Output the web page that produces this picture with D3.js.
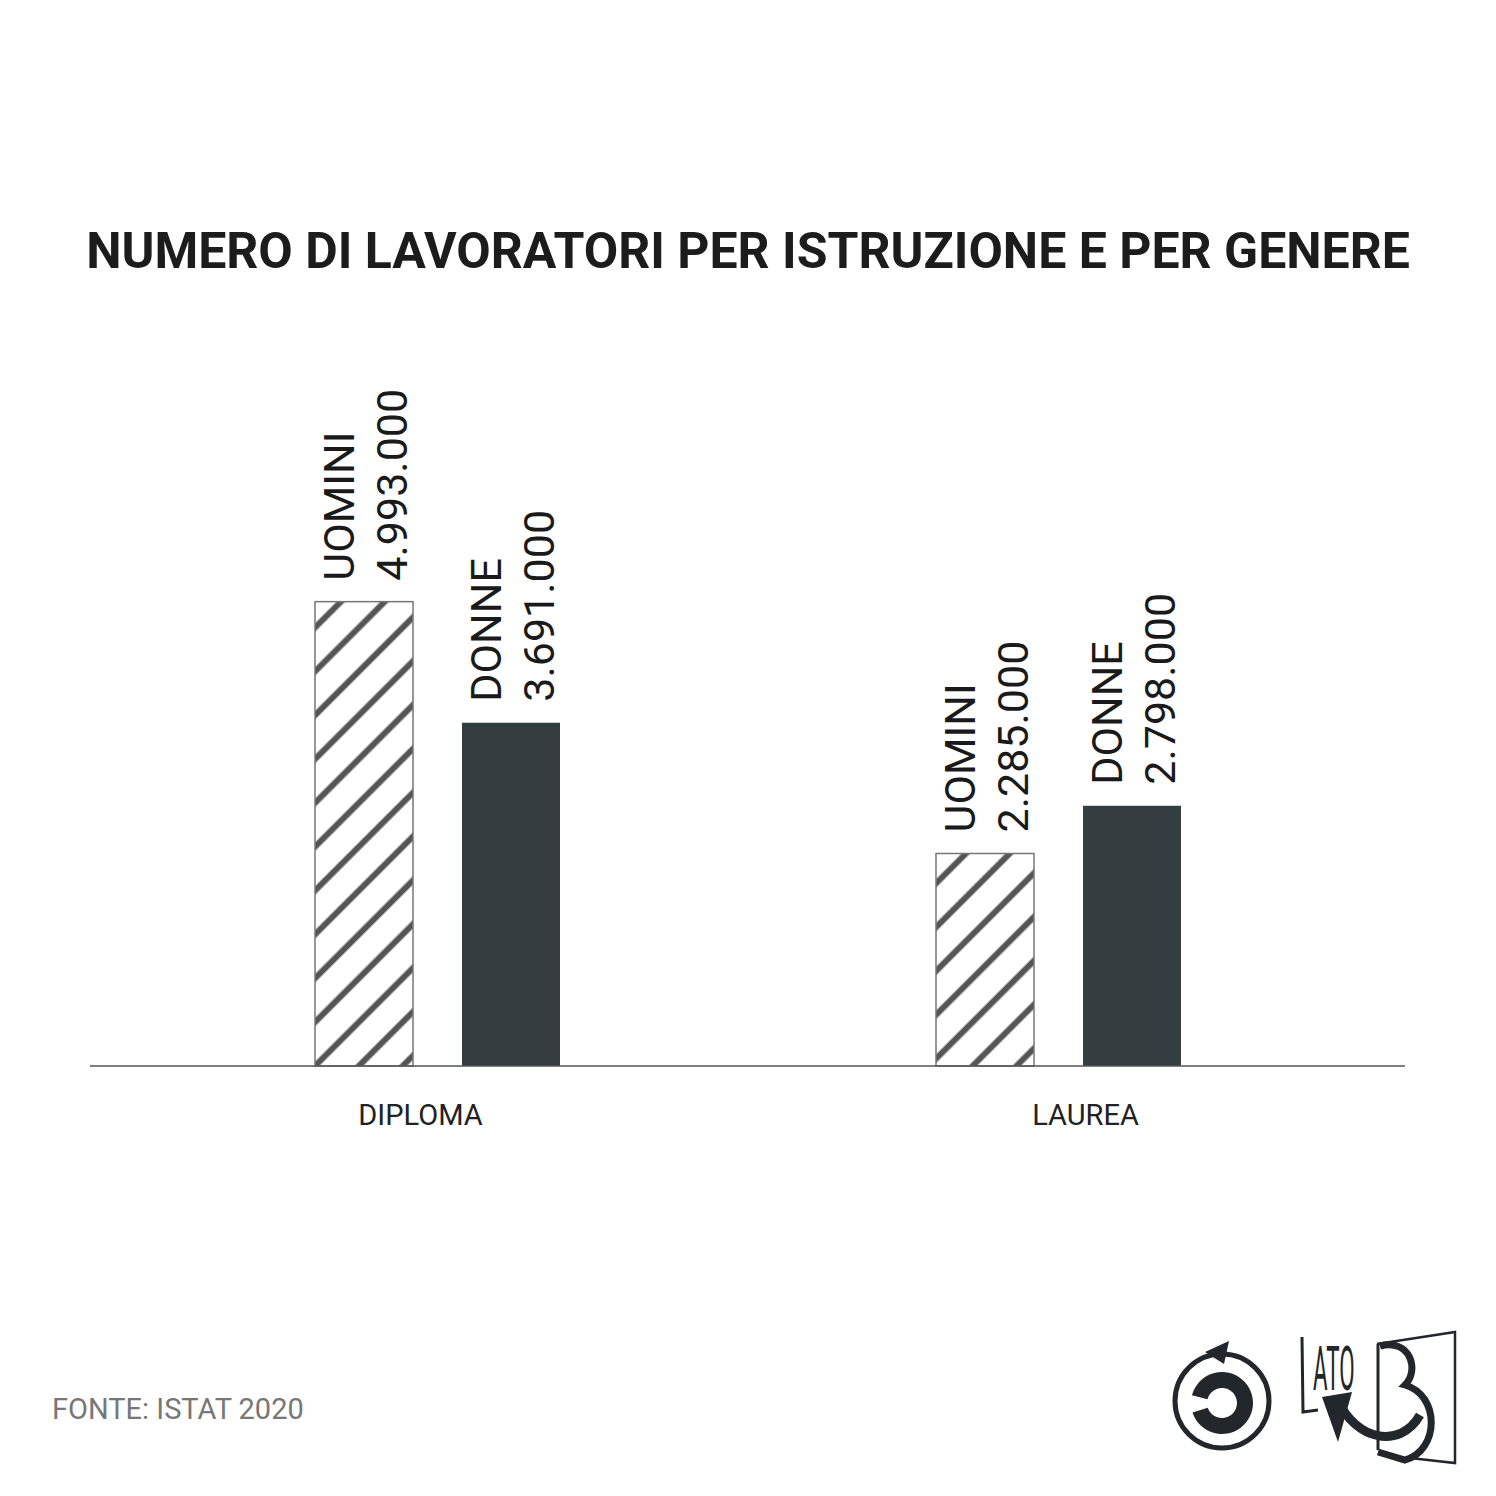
<!DOCTYPE html>
<html>
<head>
<meta charset="utf-8">
<script src="https://cdn.jsdelivr.net/npm/d3@7"></script>
<style>
  body { margin: 0; background: #fff; }
  text { font-family: Roboto, "Noto Sans", sans-serif; }
</style>
</head>
<body>
<svg width="1496" height="1496"></svg>
<script>
// data
var categories = ['DIPLOMA', 'LAUREA'];
var genders = ['UOMINI', 'DONNE'];
var uomini = [4993000, 2285000];
var donne = [3691000, 2798000];
var title = 'NUMERO DI LAVORATORI PER ISTRUZIONE E PER GENERE';
var source = 'FONTE: ISTAT 2020';

var W = 1496, H = 1496;
var baseY = 1066;
var dark = '#343d40';

var svg = d3.select('svg');
var it = d3.formatLocale({ decimal: ',', thousands: '.', grouping: [3], currency: ['€', ''] });
var fmt = it.format(',d');

var rows = [];
categories.forEach(function (c, i) {
  rows.push({ cat: c, gen: 'UOMINI', v: uomini[i] });
  rows.push({ cat: c, gen: 'DONNE', v: donne[i] });
});

// scales
var y = d3.scaleLinear().domain([0, 5000000]).range([baseY, 601]);
var xBars = d3.scaleBand().domain(categories).range([127, 1369]);
var xLabels = d3.scaleBand().domain(categories).range([88, 1418]);
var xSub = d3.scaleBand().domain(genders).range([0, 245]).paddingInner(1 / 3);

// hatch pattern
var defs = svg.append('defs');
defs.append('pattern')
    .attr('id', 'hatch')
    .attr('patternUnits', 'userSpaceOnUse')
    .attr('width', 31).attr('height', 31)
    .attr('patternTransform', 'rotate(45)')
  .append('line')
    .attr('x1', 15.5).attr('y1', 0).attr('x2', 15.5).attr('y2', 31)
    .attr('stroke', '#555').attr('stroke-width', 6);

// title
svg.append('text')
   .attr('x', W / 2).attr('y', 268)
   .attr('text-anchor', 'middle')
   .attr('font-size', 50).attr('font-weight', 700)
   .attr('fill', '#1c1c1c')
   .text(title);

function barX(d) { return xBars(d.cat) + xBars.bandwidth() / 2 - 122.5 + xSub(d.gen); }

// bars
var g = svg.append('g');
g.selectAll('rect').data(rows).enter().append('rect')
   .attr('x', barX)
   .attr('y', function (d) { return y(d.v); })
   .attr('width', xSub.bandwidth())
   .attr('height', function (d) { return baseY - y(d.v); })
   .attr('fill', function (d) { return d.gen == 'UOMINI' ? 'url(#hatch)' : dark; })
   .attr('stroke', function (d) { return d.gen == 'UOMINI' ? '#777' : 'none'; })
   .attr('stroke-width', 1.5);

// rotated labels above bars
var lab = g.selectAll('g.lab').data(rows).enter().append('g')
   .attr('class', 'lab')
   .attr('transform', function (d) {
     return 'translate(' + barX(d) + ',' + (y(d.v) - 21) + ') rotate(-90)';
   });
lab.append('text').attr('x', 0).attr('y', 39)
   .attr('font-size', 43).attr('fill', '#1a1a1a')
   .text(function (d) { return d.gen; });
lab.append('text').attr('x', 0).attr('y', 92)
   .attr('font-size', 43).attr('fill', '#1a1a1a')
   .text(function (d) { return fmt(d.v); });

// baseline
svg.append('line')
   .attr('x1', 90).attr('x2', 1405)
   .attr('y1', baseY).attr('y2', baseY)
   .attr('stroke', '#555').attr('stroke-width', 1.5);

// category labels
svg.selectAll('text.cat').data(categories).enter().append('text')
   .attr('class', 'cat')
   .attr('x', function (d) { return xLabels(d) + xLabels.bandwidth() / 2; })
   .attr('y', 1125)
   .attr('text-anchor', 'middle')
   .attr('font-size', 29).attr('fill', '#222')
   .text(function (d) { return d; });

// source
svg.append('text')
   .attr('x', 52).attr('y', 1419)
   .attr('font-size', 29).attr('fill', '#777')
   .text(source);

// logos (rough)
var ink = '#22272b';
var logo = svg.append('g');
logo.append('circle').attr('cx', 1222).attr('cy', 1401).attr('r', 47)
    .attr('fill', 'none').attr('stroke', ink).attr('stroke-width', 5);
logo.append('path').attr('d', 'M1205,1352 L1229,1341 L1224,1364 Z').attr('fill', ink);
logo.append('path')
    .attr('d', d3.arc()({ innerRadius: 15, outerRadius: 31, startAngle: -0.42 * Math.PI, endAngle: 1.4 * Math.PI }))
    .attr('transform', 'translate(1222,1403)')
    .attr('fill', ink);

var lb = svg.append('g');
lb.append('path')
  .attr('d', 'M1302,1337 L1303,1412 L1318,1410')
  .attr('fill', 'none').attr('stroke', ink).attr('stroke-width', 3);
lb.append('text').attr('x', 0).attr('y', 0)
  .attr('transform', 'translate(1313,1390) scale(0.36,1)')
  .attr('font-size', 62).attr('font-family', 'DejaVu Sans').attr('fill', ink)
  .text('ATO');
lb.append('path')
  .attr('d', 'M1377,1344 L1455,1332 L1455,1463 L1410,1458')
  .attr('fill', 'none').attr('stroke', ink).attr('stroke-width', 2.5);
lb.append('path')
  .attr('d', 'M1378,1344 L1378,1450')
  .attr('fill', 'none').attr('stroke', ink).attr('stroke-width', 3);
lb.append('path')
  .attr('d', 'M1380,1346 C1410,1338 1420,1370 1405,1385 C1440,1395 1440,1450 1405,1460 L1378,1452')
  .attr('fill', 'none').attr('stroke', ink).attr('stroke-width', 7);
lb.append('path')
  .attr('d', 'M1338,1400 C1355,1440 1400,1450 1420,1415')
  .attr('fill', 'none').attr('stroke', ink).attr('stroke-width', 9);
lb.append('path').attr('d', 'M1322,1397 L1352,1392 L1338,1442 Z').attr('fill', ink);
</script>
</body>
</html>
